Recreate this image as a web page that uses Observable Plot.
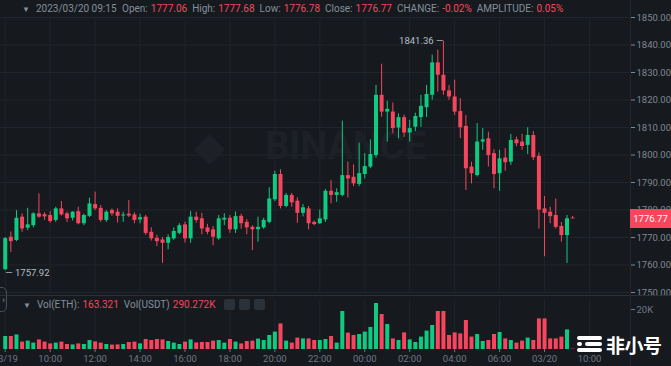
<!DOCTYPE html>
<html><head><meta charset="utf-8">
<script src="https://cdn.jsdelivr.net/npm/d3@7"></script>
<script src="https://cdn.jsdelivr.net/npm/@observablehq/plot@0.6"></script>
<style>
html,body{margin:0;padding:0;background:#161a1e;}
#wrap{position:relative;width:671px;height:366px;overflow:hidden;background:#161a1e;font-family:Roboto,"Noto Sans",sans-serif;}
#wrap svg{position:absolute;left:0;}
.abs{position:absolute;}
#hdr{position:absolute;left:22px;top:2px;font-size:10px;color:#848e9c;white-space:nowrap;line-height:13px;}
#hdr .v{color:#f6465d;margin-right:5px;}
#hdr .l{margin-right:3px;}
#vh{position:absolute;left:23px;top:298px;font-size:10px;color:#848e9c;white-space:nowrap;line-height:13px;}
#vh .v{color:#f6465d;margin-right:5px;}
#vh .l{margin-right:3px;}
.ico{display:inline-block;width:11px;height:11px;background:#2b3139;border-radius:2px;margin-left:4px;vertical-align:-2px;}
</style></head><body><div id="wrap"></div>
<script>
// ---- data: 15-minute candles, ETH/USDT, from 2023-03-19 08:00 ----
const opens  = [1758.3,1770.1,1768.9,1777.4,1773.4,1774.3,1778.6,1778.3,1778.0,1776.2,1780.4,1778.6,1777.0,1779.4,1775.0,1777.7,1782.0,1780.6,1776.2,1779.8,1779.2,1777.8,1778.5,1778.2,1776.4,1777.4,1771.9,1769.7,1769.1,1767.9,1769.5,1771.5,1774.6,1769.5,1777.4,1776.8,1773.5,1772.8,1769.5,1776.3,1777.0,1772.8,1777.7,1775.5,1773.7,1772.8,1773.5,1775.5,1783.7,1792.9,1781.3,1785.3,1783.2,1778.8,1780.4,1775.5,1775.0,1776.4,1786.8,1785.3,1785.3,1792.5,1791.9,1789.3,1792.9,1795.6,1799.8,1821.7,1815.6,1815.6,1809.8,1813.6,1808.0,1810.1,1813.6,1817.2,1821.7,1833.5,1829.0,1823.3,1821.1,1815.8,1810.4,1795.6,1792.5,1804.7,1805.9,1800.5,1793.2,1798.9,1797.4,1805.5,1804.7,1803.5,1807.1,1799.5,1780.4,1779.2,1778.0,1774.0,1770.7,1777.06];
const highs  = [1770.0,1772.0,1779.8,1778.6,1780.6,1779.0,1785.9,1779.0,1779.4,1781.0,1783.1,1779.2,1779.4,1781.0,1778.5,1784.3,1786.5,1781.6,1779.8,1780.4,1780.4,1779.2,1783.4,1779.0,1778.5,1778.0,1773.5,1770.8,1770.0,1771.0,1773.5,1775.0,1775.6,1779.5,1779.2,1778.8,1774.8,1774.0,1778.0,1778.6,1778.0,1779.3,1778.5,1776.5,1774.3,1777.4,1777.0,1788.1,1794.1,1794.6,1786.0,1786.0,1784.4,1782.0,1781.3,1776.0,1780.0,1787.5,1790.7,1787.7,1812.3,1797.4,1796.4,1804.3,1800.5,1805.5,1825.3,1833.0,1819.6,1818.9,1815.0,1814.5,1812.6,1815.2,1821.7,1825.3,1836.3,1838.1,1841.36,1825.3,1827.2,1820.5,1814.4,1797.4,1811.4,1809.6,1808.3,1801.9,1801.7,1802.3,1807.5,1806.5,1807.5,1809.9,1808.5,1800.7,1784.9,1781.0,1784.0,1775.5,1778.0,1777.68];
const lows   = [1757.92,1764.6,1768.5,1771.9,1772.5,1773.5,1777.0,1776.2,1775.2,1775.5,1777.8,1775.5,1776.0,1774.6,1774.3,1777.3,1779.8,1775.5,1775.5,1777.7,1775.3,1775.5,1777.3,1775.0,1775.0,1770.8,1768.7,1766.7,1760.6,1765.5,1769.0,1771.0,1768.0,1767.9,1775.2,1771.0,1771.0,1767.0,1769.0,1774.3,1771.5,1771.5,1773.0,1771.0,1765.3,1768.3,1773.0,1775.0,1783.0,1780.4,1780.8,1781.0,1775.2,1777.5,1772.8,1774.3,1774.7,1775.5,1782.2,1782.8,1784.8,1784.4,1788.5,1788.5,1791.3,1795.0,1799.0,1813.8,1804.7,1807.7,1805.9,1806.4,1804.7,1808.5,1810.1,1813.6,1819.9,1822.9,1821.7,1819.9,1814.4,1806.0,1787.1,1789.5,1792.0,1801.7,1795.6,1787.7,1786.8,1794.1,1796.2,1803.0,1801.7,1800.2,1798.0,1773.1,1763.0,1775.0,1773.1,1768.3,1760.6,1776.78];
const closes = [1769.6,1768.5,1777.0,1773.1,1774.6,1778.6,1777.4,1777.5,1775.8,1780.4,1778.2,1776.8,1779.2,1775.0,1778.0,1782.2,1780.4,1776.2,1779.2,1778.6,1777.7,1778.2,1777.8,1776.2,1777.2,1771.5,1769.5,1768.5,1767.9,1770.0,1772.2,1774.3,1769.5,1777.4,1776.2,1773.1,1771.9,1770.1,1776.8,1777.0,1772.8,1777.6,1775.0,1773.5,1772.8,1773.7,1776.2,1784.0,1792.9,1781.3,1785.3,1782.6,1778.8,1780.8,1775.0,1774.7,1776.8,1786.8,1785.3,1786.3,1792.5,1791.3,1789.5,1793.2,1795.8,1800.2,1821.7,1815.6,1816.6,1809.6,1813.6,1808.0,1809.6,1814.0,1817.7,1822.0,1833.5,1829.0,1823.3,1821.1,1815.6,1809.9,1795.0,1793.2,1804.7,1805.5,1799.8,1792.9,1798.6,1797.2,1805.3,1804.1,1803.1,1807.1,1799.0,1780.0,1778.8,1777.6,1773.7,1770.7,1776.8,1776.77];
// volume in thousands of ETH
const volumes = [6.5,6.5,7.3,3.7,4.2,3.2,4.8,3.7,2.8,3.2,3.7,2.5,2.3,2.8,2.5,4.5,3.8,3.2,2.5,2.2,2.3,2.5,3.5,3.7,2.8,5.0,4.5,5.0,4.8,4.0,3.2,2.5,3.7,4.8,3.3,3.5,3.5,4.2,4.5,3.2,5.0,3.7,2.8,4.0,4.2,5.2,4.5,7.0,8.7,12.8,4.2,3.2,5.7,5.3,5.3,4.5,4.5,5.0,6.5,3.2,19.0,8.2,7.0,7.5,8.7,11.0,23.0,17.5,12.5,5.3,4.5,8.3,4.8,3.5,6.2,9.2,12.0,19.0,19.0,7.0,8.3,7.8,14.5,6.2,7.5,4.0,4.5,7.5,8.5,5.3,4.5,3.2,4.2,5.7,4.5,15.3,15.3,5.3,5.3,6.2,9.8,0.163];
const timeTickLabels = ["03/19","10:00","12:00","14:00","16:00","18:00","20:00","22:00","00:00","02:00","04:00","06:00","03/20","10:00"];
const priceTicks = [1750,1760,1770,1780,1790,1800,1810,1820,1830,1840,1850];
const volumeTicks = [20];
const headerLabels = ["Open:","High:","Low:","Close:","CHANGE:","AMPLITUDE:"];
const headerValues = ["1777.06","1777.68","1776.78","1776.77","-0.02%","0.05%"];
const headerTime = "2023/03/20 09:15";
const volLabels = ["Vol(ETH):","Vol(USDT)"];
const volValues = ["163.321","290.272K"];
const lastPrice = 1776.77;

const GREEN = "#0ecb81", RED = "#f6465d", GRID = "#20242b";
const STEP = 15 * 60 * 1000;
const t0 = Date.UTC(2023, 2, 19, 8, 0);
const candles = opens.map((o, i) => ({
  t: new Date(t0 + i * STEP), o, h: highs[i], l: lows[i], c: closes[i], v: volumes[i],
  col: closes[i] >= o ? GREEN : RED
}));
const tickTimes = timeTickLabels.map((_, k) => new Date(t0 + k * 2 * 3600 * 1000));
const fmtTime = d => timeTickLabels[tickTimes.findIndex(t => +t === +d)];
const xDomain = [new Date(t0 - 0.84 * STEP), new Date(t0 + 111.3 * STEP)];
const maxC = candles.reduce((a, b) => b.h > a.h ? b : a);
const minC = candles.reduce((a, b) => b.l < a.l ? b : a);

const wrap = document.getElementById("wrap");

const main = Plot.plot({
  width: 671, height: 300, marginTop: 17, marginBottom: 8, marginLeft: 0, marginRight: 41,
  style: {background: "transparent", color: "#7f8793", fontFamily: "Roboto, sans-serif", fontSize: "9.5px"},
  x: {type: "utc", domain: xDomain, axis: null},
  y: {domain: [1750, 1850], axis: "right", ticks: priceTicks, tickFormat: d => d.toFixed(2), tickSize: 4, tickPadding: 2, label: null},
  marks: [
    Plot.ruleY(priceTicks, {stroke: GRID}),
    Plot.ruleX(tickTimes, {stroke: GRID}),
    Plot.text(["BINANCE"], {frameAnchor: "middle", dx: 30, dy: -8, fontSize: 38, fontWeight: 700, fill: "#1d2127", letterSpacing: 3}),
    Plot.text(["◆"], {frameAnchor: "middle", dx: -106, dy: -8, fontSize: 40, fill: "#1d2127"}),
    Plot.ruleX(candles, {x: "t", y1: "l", y2: "h", stroke: "col", strokeWidth: 1}),
    Plot.ruleX(candles, {x: "t", y1: "o", y2: "c", stroke: "col", strokeWidth: 4}),
    Plot.text([maxC], {x: "t", y: "h", text: d => d.h.toFixed(2) + " —", textAnchor: "end", dx: 0, fill: "#b7bdc6", fontSize: 9.5}),
    Plot.text([minC], {x: "t", y: "l", text: d => "— " + d.l.toFixed(2), textAnchor: "start", dx: 0, dy: 2, fill: "#b7bdc6", fontSize: 9.5})
  ]
});
main.style.top = "0px";
wrap.appendChild(main);

const vol = Plot.plot({
  width: 671, height: 70, marginTop: 3, marginBottom: 17, marginLeft: 0, marginRight: 41,
  style: {background: "transparent", color: "#6f7683", fontFamily: "Roboto, sans-serif", fontSize: "9.5px"},
  x: {type: "utc", domain: xDomain, ticks: tickTimes, tickFormat: fmtTime, tickSize: 3, tickPadding: 3, label: null},
  y: {domain: [0, 25], axis: "right", ticks: volumeTicks, tickFormat: d => d + "K", tickSize: 4, tickPadding: 2, label: null},
  marks: [
    Plot.ruleX(tickTimes, {stroke: GRID}),
    Plot.ruleX(candles, {x: "t", y1: 0, y2: "v", stroke: "col", strokeWidth: 4})
  ]
});
vol.style.top = "296px";
wrap.appendChild(vol);

// frame lines
const add = (css, html) => { const d = document.createElement("div"); d.className = "abs"; d.style.cssText = css; if (html) d.innerHTML = html; wrap.appendChild(d); return d; };
add("left:0;top:295px;width:671px;height:1px;background:#2b2f36;");
add("left:630px;top:0;width:1px;height:366px;background:#22262d;");

// header
const hdr = add("", "");
hdr.id = "hdr";
hdr.innerHTML = `<span style="font-size:8px;margin-right:6px;">▼</span><span class="l">${headerTime}</span> ` +
  headerLabels.map((l, i) => `<span class="l">${l}</span><span class="v">${headerValues[i]}</span>`).join("");

// volume header
const vh = add("", "");
vh.id = "vh";
vh.innerHTML = `<span style="font-size:8px;margin-right:6px;">▼</span>` +
  volLabels.map((l, i) => `<span class="l">${l}</span><span class="v">${volValues[i]}</span>`).join("") +
  `<span class="ico"></span><span class="ico"></span><span class="ico"></span>`;

// side button
add("left:-5px;top:287px;width:12px;height:25px;border:1px solid #474d57;border-radius:5px;color:#848e9c;font-size:9px;line-height:25px;text-align:right;padding-right:1px;box-sizing:border-box;", "›");

// last price tag
const yLast = main.scale("y").apply(lastPrice);
add(`left:630px;top:${yLast - 9.5}px;width:41px;height:19px;background:${RED};color:#fff;font-size:9.5px;line-height:19px;text-align:center;`, lastPrice.toFixed(2));

// 非小号 watermark
add("left:577px;top:336px;width:25px;height:4px;border-radius:2px;background:#fff;");
add("left:577px;top:342px;width:5px;height:4px;border-radius:2px;background:#fff;");
add("left:585px;top:342px;width:17px;height:4px;border-radius:2px;background:#fff;");
add("left:577px;top:348px;width:25px;height:4px;border-radius:2px;background:#fff;");
add("left:606px;top:334px;color:#fff;font-family:'Noto Sans CJK SC',sans-serif;font-weight:700;font-size:19px;line-height:22px;letter-spacing:-0.5px;", "非小号");
</script></body></html>
